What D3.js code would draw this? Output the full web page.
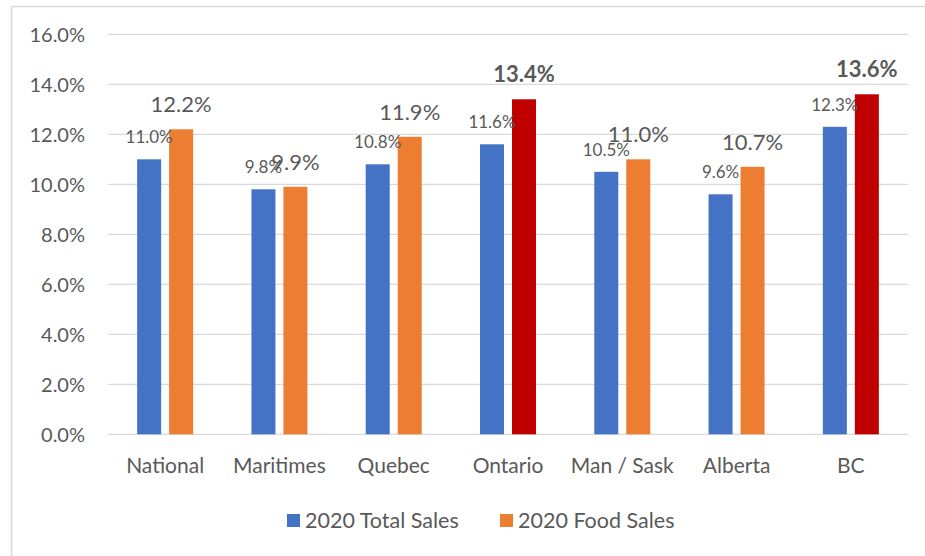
<!DOCTYPE html>
<html><head><meta charset="utf-8">
<script src="https://cdn.jsdelivr.net/npm/d3@7"></script>
<style>body{margin:0;background:#fff}svg{display:block}</style>
</head><body><svg id="c" width="925" height="556"></svg>
<script>
const categories = ["National","Maritimes","Quebec","Ontario","Man / Sask","Alberta","BC"];
const totalSales = [11.0, 9.8, 10.8, 11.6, 10.5, 9.6, 12.3];
const foodSales  = [12.2, 9.9, 11.9, 13.4, 11.0, 10.7, 13.6];
const highlighted = ["Ontario","BC"];
const yTicks = [0,2,4,6,8,10,12,14,16];
const seriesNames = ["2020 Total Sales","2020 Food Sales"];

const BLUE="#4472C4", ORANGE="#ED7D31", RED="#C00000", TXT="#595959", GRID="#D9D9D9";
const FONT="Lato, 'Open Sans', sans-serif";
const svg = d3.select("#c");

// chart border (top & left visible)
svg.append("line").attr("x1",11.5).attr("x2",925).attr("y1",6.5).attr("y2",6.5).attr("stroke",GRID).attr("stroke-width",1.5);
svg.append("line").attr("x1",11.5).attr("x2",11.5).attr("y1",6.5).attr("y2",556).attr("stroke",GRID).attr("stroke-width",1.5);

const x = d3.scaleBand().domain(categories).range([108,908]);
const y = d3.scaleLinear().domain([0,16]).range([434.3,34.3]);

// gridlines
svg.append("g").selectAll("line").data(yTicks).join("line")
  .attr("x1",108).attr("x2",908).attr("y1",d=>y(d)).attr("y2",d=>y(d))
  .attr("stroke",GRID).attr("stroke-width",1.2);

// y axis labels
svg.append("g").selectAll("text").data(yTicks).join("text")
  .attr("x",85).attr("y",d=>y(d)+7.5).attr("text-anchor","end")
  .attr("font-family",FONT).attr("font-size",20).attr("fill",TXT)
  .text(d=>d.toFixed(1)+"%");

const bw = 24, off = 16;
const cx = c => x(c) + x.bandwidth()/2;

// bars
const g = svg.append("g");
g.selectAll(".tb").data(categories).join("rect")
  .attr("x",(c)=>cx(c)-off-bw/2).attr("width",bw)
  .attr("y",(c,i)=>y(totalSales[i])).attr("height",(c,i)=>y(0)-y(totalSales[i]))
  .attr("fill",BLUE);
g.selectAll(".fb").data(categories).join("rect")
  .attr("x",(c)=>cx(c)+off-bw/2).attr("width",bw)
  .attr("y",(c,i)=>y(foodSales[i])).attr("height",(c,i)=>y(0)-y(foodSales[i]))
  .attr("fill",c=>highlighted.includes(c)?RED:ORANGE);

// data labels
g.selectAll(".tl").data(categories).join("text")
  .attr("x",c=>cx(c)-off).attr("y",(c,i)=>y(totalSales[i])-16)
  .attr("text-anchor","middle").attr("font-family",FONT).attr("font-size",17).attr("fill",TXT)
  .text((c,i)=>totalSales[i].toFixed(1)+"%");
g.selectAll(".fl").data(categories).join("text")
  .attr("x",c=>cx(c)+off).attr("y",(c,i)=>y(foodSales[i])-17)
  .attr("text-anchor","middle").attr("font-family",FONT).attr("font-size",22)
  .attr("font-weight",c=>highlighted.includes(c)?"bold":"normal").attr("fill",TXT)
  .text((c,i)=>foodSales[i].toFixed(1)+"%");

// category labels
svg.append("g").selectAll("text").data(categories).join("text")
  .attr("x",c=>cx(c)).attr("y",473).attr("text-anchor","middle")
  .attr("font-family",FONT).attr("font-size",21).attr("fill",TXT).text(c=>c);

// legend
const leg = svg.append("g");
const legX = [287, 500];
const legC = [BLUE, ORANGE];
seriesNames.forEach((n,i)=>{
  leg.append("rect").attr("x",legX[i]).attr("y",514).attr("width",13).attr("height",13).attr("fill",legC[i]);
  leg.append("text").attr("x",legX[i]+18).attr("y",528).attr("font-family",FONT).attr("font-size",21.5).attr("fill",TXT).text(n);
});
</script></body></html>
